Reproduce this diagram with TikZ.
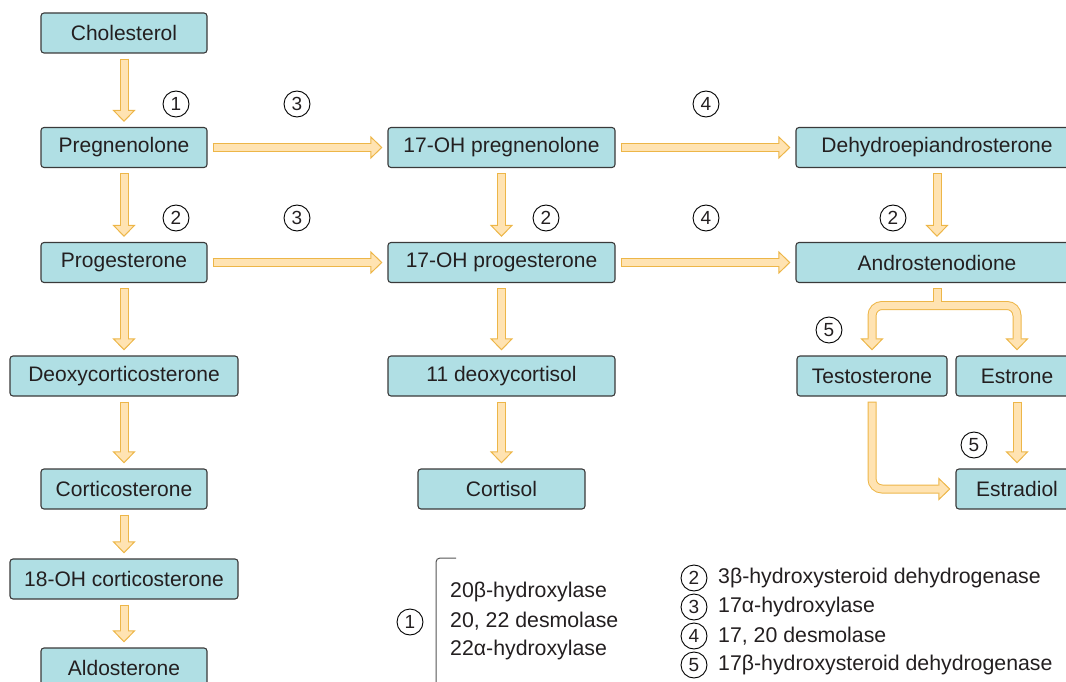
\documentclass[tikz,border=0pt]{standalone}
\usepackage{fontspec}
\setmainfont{Liberation Sans}
\usetikzlibrary{arrows.meta}
\definecolor{boxfill}{HTML}{B0DFE4}
\definecolor{boxline}{HTML}{3A3A3A}
\definecolor{arrfill}{HTML}{FFE3B2}
\definecolor{arrline}{HTML}{EDB648}
\definecolor{txt}{HTML}{231F20}
\definecolor{brk}{HTML}{555555}
\tikzset{
  fattip/.tip={Triangle[width=23pt,length=12pt,line width=1pt,color=arrline,fill=arrfill]},
  box/.style={draw=boxline, fill=boxfill, line width=1.1pt, rounded corners=3pt,
    inner sep=0pt, minimum height=40pt, text=txt, font=\fontsize{21}{25}\selectfont},
  fatb/.style={draw=arrline, line width=9pt, shorten <=5pt, shorten >=5pt, -fattip},
  fatf/.style={draw=arrfill, line width=7pt, shorten <=6pt, shorten >=15pt},
  num/.style={circle, draw=black, line width=0.9pt, minimum size=26pt, inner sep=0pt,
    text=txt, font=\fontsize{19}{20}\selectfont},
  legtext/.style={anchor=west, inner sep=0pt, text=txt, font=\fontsize{21.3}{24}\selectfont},
}
\newcommand\fatarr[1]{\draw[fatb] #1; \draw[fatf] #1;}
\begin{document}
\begin{tikzpicture}[x=1pt,y=-1pt]
\useasboundingbox (0,0) rectangle (1066,682);
\clip (0,0) rectangle (1066,682);
% left column
\node[box, minimum width=166pt] (chol) at (124,33) {Cholesterol};
\node[box, minimum width=166pt] (preg) at (124,147.5) {Pregnenolone};
\node[box, minimum width=166pt] (prog) at (124,262.5) {Progesterone};
\node[box, minimum width=228pt] (doc) at (124,376) {Deoxycorticosterone};
\node[box, minimum width=166pt] (cort) at (124,489) {Corticosterone};
\node[box, minimum width=228pt] (oh18) at (124,579) {18-OH corticosterone};
\node[box, minimum width=166pt] (aldo) at (124,668) {Aldosterone};
% middle column
\node[box, minimum width=227pt] (ohpreg) at (501.5,147.5) {17-OH pregnenolone};
\node[box, minimum width=227pt] (ohprog) at (501.5,262.5) {17-OH progesterone};
\node[box, minimum width=227pt] (deoxy) at (501.5,376) {11 deoxycortisol};
\node[box, minimum width=167pt] (cortisol) at (501.5,489) {Cortisol};
% right column
\node[box, minimum width=282pt] (dhea) at (937,147.5) {Dehydroepiandrosterone};
\node[box, minimum width=282pt] (andro) at (937,262.5) {Androstenodione};
\node[box, minimum width=150pt] (testo) at (872,376) {Testosterone};
\node[box, minimum width=122pt] (estrone) at (1017,376) {Estrone};
\node[box, minimum width=122pt] (estrad) at (1017,489) {Estradiol};
% straight arrows
\fatarr{(chol) -- (preg)}
\fatarr{(preg) -- (prog)}
\fatarr{(prog) -- (doc)}
\fatarr{(doc) -- (cort)}
\fatarr{(cort) -- (oh18)}
\fatarr{(oh18) -- (aldo)}
\fatarr{(preg) -- (ohpreg)}
\fatarr{(prog) -- (ohprog)}
\fatarr{(ohpreg) -- (ohprog)}
\fatarr{(ohprog) -- (deoxy)}
\fatarr{(deoxy) -- (cortisol)}
\fatarr{(ohpreg) -- (dhea)}
\fatarr{(ohprog) -- (andro)}
\fatarr{(dhea) -- (andro)}
\fatarr{(estrone) -- (estrad)}
% rounded arrow testosterone -> estradiol
\draw[fatb, rounded corners=10pt] (testo.south) |- (estrad.west);
\draw[fatf, rounded corners=10pt] (testo.south) |- (estrad.west);
% split arrow from androstenodione
\coordinate (junc) at (937,305.5);
\draw[fatb, fattip-fattip, rounded corners=10pt] (testo.north) |- (junc) -| (estrone.north);
\draw[fatb, -, shorten >=0pt] (andro.south) -- (junc);
\draw[fatf, shorten <=15pt, rounded corners=10pt] (testo.north) |- (junc) -| (estrone.north);
\draw[fatf, shorten >=0pt] (andro.south) -- (junc);
% circled numbers
\node[num] (c1a) at (176,104) {1};
\node[num] (c3a) at (297,104) {3};
\node[num] (c4a) at (706,104) {4};
\node[num] (c2a) at (176,218) {2};
\node[num] (c3b) at (297,218) {3};
\node[num] (c2b) at (546,218) {2};
\node[num] (c4b) at (706,218) {4};
\node[num] (c2c) at (893,218) {2};
\node[num] (c5a) at (829,330) {5};
\node[num] (c5b) at (974,445) {5};
% legend
\node[num] (l1) at (410,622) {1};
\draw[brk, line width=1pt, rounded corners=4pt] (456,558) -- (436,558) -- (436,700);
\node[legtext] (t1a) at (450,592) {20β-hydroxylase};
\node[legtext] (t1b) at (450,621) {20, 22 desmolase};
\node[legtext] (t1c) at (450,650) {22α-hydroxylase};
\node[num] (l2) at (694,578) {2};
\node[num] (l3) at (694,607) {3};
\node[num] (l4) at (694,636) {4};
\node[num] (l5) at (694,665) {5};
\node[legtext] (t2) at (718,578) {3β-hydroxysteroid dehydrogenase};
\node[legtext] (t3) at (718,607) {17α-hydroxylase};
\node[legtext] (t4) at (718,636) {17, 20 desmolase};
\node[legtext] (t5) at (718,665) {17β-hydroxysteroid dehydrogenase};
\end{tikzpicture}
\end{document}
